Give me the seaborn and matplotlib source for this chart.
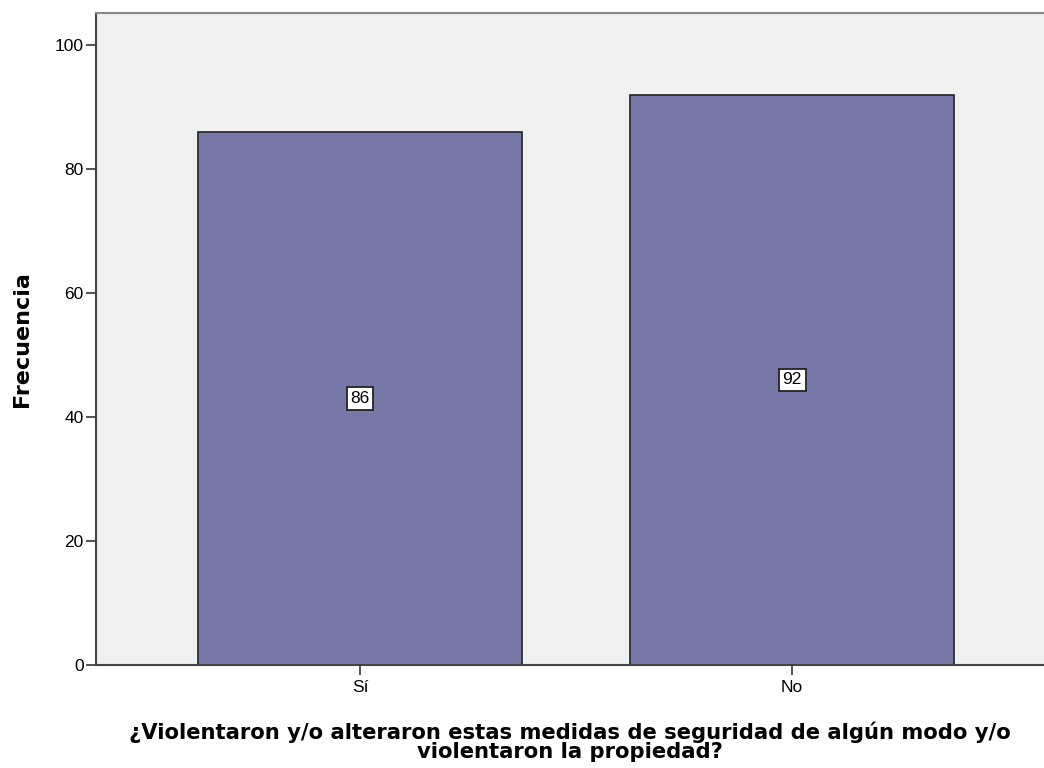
import matplotlib
matplotlib.use("Agg")
import matplotlib.pyplot as plt
import seaborn as sns

# Data
categories = ["Sí", "No"]
counts = [86, 92]
y_ticks = [0, 20, 40, 60, 80, 100]

sns.set_style("white")
plt.rcParams["font.family"] = ["Liberation Sans", "DejaVu Sans"]

fig = plt.figure(figsize=(10.44, 7.68), dpi=100)
ax = fig.add_axes([0.092, 0.134, 0.908, 0.849])
ax.set_facecolor("#f0f0f0")

sns.barplot(x=categories, y=counts, color="#7878a8", saturation=1, width=0.75,
            edgecolor="#222222", linewidth=1.2, ax=ax)

# Count labels in white boxes at half bar height
for i, v in enumerate(counts):
    ax.text(i, v / 2, str(v), ha="center", va="center", fontsize=12.5, color="black",
            bbox=dict(boxstyle="square,pad=0.22", fc="white", ec="#222222", lw=1.3))

ax.set_xlim(-0.611, 1.583)
ax.set_ylim(0, 105.2)
ax.set_yticks(y_ticks)
ax.tick_params(axis="both", direction="out", length=7, width=1.3, color="#444444",
               labelsize=12.5, labelcolor="black", pad=2, bottom=True, left=True)
ax.tick_params(axis="x", pad=4)

for side in ["left", "bottom"]:
    ax.spines[side].set_color("#444444")
    ax.spines[side].set_linewidth(1.5)
ax.spines["top"].set_color("#888888")
ax.spines["top"].set_linewidth(1.5)
ax.spines["right"].set_visible(False)

ax.set_ylabel("Frecuencia", fontsize=16, fontweight="bold", family="DejaVu Sans",
              color="black", labelpad=16)
ax.set_xlabel("¿Violentaron y/o alteraron estas medidas de seguridad de algún modo y/o\n"
              "violentaron la propiedad?", fontsize=15.2, fontweight="bold",
              family="DejaVu Sans", color="black", linespacing=0.95, labelpad=19)

fig.savefig("out.png", dpi=100)
